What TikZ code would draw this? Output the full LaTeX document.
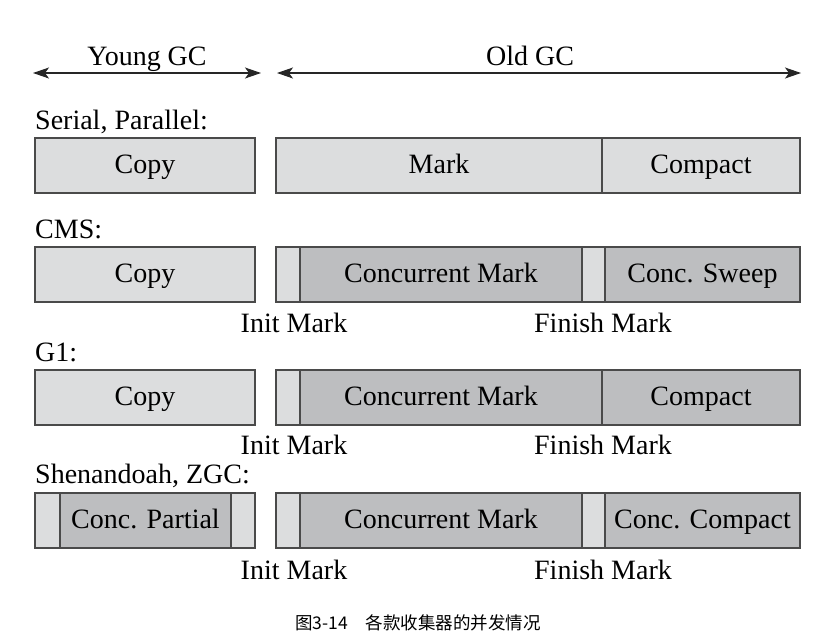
\documentclass[tikz,border=0pt]{standalone}
\usepackage{fontspec}
\setmainfont{Liberation Serif}
\newfontfamily\cjk{Noto Sans CJK SC}
\usetikzlibrary{arrows.meta}
\definecolor{lightseg}{HTML}{DCDDDE}
\definecolor{darkseg}{HTML}{BDBEC0}
\definecolor{edge}{HTML}{4A4A4A}
\tikzset{
  seg/.style={draw=edge, line width=1.1pt, minimum height=55pt, inner sep=0pt, outer sep=0pt, text height=19.6pt, text depth=4.2pt, font=\fontsize{28}{31}\selectfont},
  lt/.style={seg, fill=lightseg},
  dk/.style={seg, fill=darkseg},
  txt/.style={font=\fontsize{28}{31}\selectfont, inner sep=0pt, text height=18.5pt, text depth=0pt},
  span/.style={line width=1.1pt, draw=black!85, {Stealth[length=16pt,width=11pt,inset=4pt]}-{Stealth[length=16pt,width=11pt,inset=4pt]}},
}
\begin{document}
\begin{tikzpicture}[x=1pt,y=-1pt]
\useasboundingbox (0,0) rectangle (827,641);
% axis arrows
\coordinate (ya) at (33,73); \coordinate (yb) at (261,73);
\coordinate (oa) at (277,73); \coordinate (ob) at (801,73);
\draw[span] (ya) -- (yb);
\draw[span] (oa) -- (ob);
\node[txt] (young) at (147,56) {Young GC};
\node[txt] (old) at (530,56) {Old GC};
% row 1
\node[txt, anchor=west] (l1) at (35,120.5) {Serial, Parallel:};
\node[lt, minimum width=220pt] (copy1) at (145,165.5) {Copy};
\node[lt, minimum width=326pt] (mark1) at (439,165.5) {Mark};
\node[lt, minimum width=198pt] (compact1) at (701,165.5) {Compact};
% row 2
\node[txt, anchor=west] (l2) at (35,229) {CMS:};
\node[lt, minimum width=220pt] (copy2) at (145,274.5) {Copy};
\node[lt, minimum width=24pt] (init2) at (288,274.5) {};
\node[dk, minimum width=282pt] (cm2) at (441,274.5) {Concurrent Mark};
\node[lt, minimum width=23pt] (fin2) at (593.5,274.5) {};
\node[dk, minimum width=195pt] (sweep2) at (702.5,274.5) {Conc. Sweep};
\node[txt] (im2) at (294,323.5) {Init Mark};
\node[txt] (fm2) at (603,323.5) {Finish Mark};
% row 3
\node[txt, anchor=west] (l3) at (35,352.5) {G1:};
\node[lt, minimum width=220pt] (copy3) at (145,397.5) {Copy};
\node[lt, minimum width=24pt] (init3) at (288,397.5) {};
\node[dk, minimum width=302pt, label={[seg, draw=none, fill=none, minimum height=0pt, xshift=-10pt]center:Concurrent Mark}] (cm3) at (451,397.5) {};
\node[dk, minimum width=198pt] (compact3) at (701,397.5) {Compact};
\node[txt] (im3) at (294,445) {Init Mark};
\node[txt] (fm3) at (603,445) {Finish Mark};
% row 4
\node[txt, anchor=west] (l4) at (35,474.5) {Shenandoah, ZGC:};
\node[lt, minimum width=25pt] (s1) at (47.5,520.5) {};
\node[dk, minimum width=171pt] (partial4) at (145.5,520.5) {Conc. Partial};
\node[lt, minimum width=24pt] (s2) at (243,520.5) {};
\node[lt, minimum width=24pt] (init4) at (288,520.5) {};
\node[dk, minimum width=282pt] (cm4) at (441,520.5) {Concurrent Mark};
\node[lt, minimum width=23pt] (fin4) at (593.5,520.5) {};
\node[dk, minimum width=195pt] (cc4) at (702.5,520.5) {Conc. Compact};
\node[txt] (im4) at (294,570.5) {Init Mark};
\node[txt] (fm4) at (603,570.5) {Finish Mark};
% caption
\node[font=\cjk\fontsize{17.5}{20}\selectfont, inner sep=0pt] (cap) at (418,623) {图3-14\hspace{1em}各款收集器的并发情况};
\end{tikzpicture}
\end{document}
